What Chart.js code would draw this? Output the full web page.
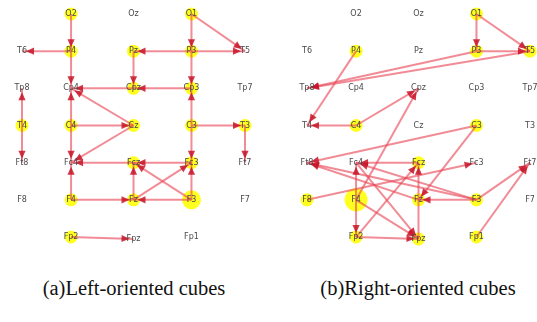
<!DOCTYPE html>
<html>
<head>
<meta charset="utf-8">
<script src="https://cdn.jsdelivr.net/npm/chart.js@4/dist/chart.umd.min.js"></script>
<style>
  html, body { margin: 0; padding: 0; background: #fff; }
  body { width: 537px; height: 322px; position: relative; overflow: hidden; }
  canvas { position: absolute; top: 0; filter: blur(0.45px); }
  #ca { left: 0; }
  #cb { left: 285px; }
  .cap { position: absolute; top: 276px; font-family: "Liberation Serif", serif; font-size: 20.5px; line-height: 24px; color: #111; white-space: nowrap; transform: translateX(-50%); }
</style>
</head>
<body>
<canvas id="ca" width="270" height="260"></canvas>
<canvas id="cb" width="252" height="260"></canvas>
<div class="cap" id="capA" style="left:134px">(a)Left-oriented cubes</div>
<div class="cap" id="capB" style="left:418px">(b)Right-oriented cubes</div>
<script>
// ---- data ----
const nodeNames = ['O2','Oz','O1','T6','P4','Pz','P3','T5','Tp8','Cp4','Cpz','Cp3','Tp7','T4','C4','Cz','C3','T3','Ft8','Fc4','Fcz','Fc3','Ft7','F8','F4','Fz','F3','F7','Fp2','Fpz','Fp1'];
const nodeCol   = [1,2,3, 0,1,2,3,4, 0,1,2,3,4, 0,1,2,3,4, 0,1,2,3,4, 0,1,2,3,4, 1,2,3];
const nodeRow   = [0,0,0, 1,1,1,1,1, 2,2,2,2,2, 3,3,3,3,3, 4,4,4,4,4, 5,5,5,5,5, 6,6.05,6];
const colX      = [0, 0.88, 2.0, 3.04, 4.0];

const edgesA = [
  ['O2','P4'],['P4','T6'],['P4','Cp4'],['O1','P3'],['O1','T5'],['P3','T5'],['P3','Pz'],
  ['Pz','Cpz'],['P3','Cp3'],['Cp3','Cpz'],['Cpz','Cp4'],['C3','Cp3'],['T4','Tp8'],
  ['C4','Cp4'],['Cz','Cp4'],['C4','Cz'],['Cz','Fc4'],['C4','Fc4'],['F4','Fc4'],['F4','Fz'],
  ['C3','T3'],['C3','Fc3'],['T3','Ft7'],['T4','Ft8'],['Fc3','Fcz'],['Fcz','Fc4'],
  ['Fz','Fcz'],['F3','Fz'],['F3','Fcz'],['Fz','Fc3'],['F3','Fc3'],['Fp2','Fpz']
];
const activeA = ['O2','O1','P4','Pz','P3','Cpz','Cp3','T4','C4','Cz','C3','T3','Fcz','Fc3','F4','Fz','F3','Fp2'];
const hubA = 'F3';

const edgesB = [
  ['O1','P3'],['O1','T5'],['P3','T5'],['P3','Tp8'],['T5','Tp8'],['P4','T4'],['C4','T4'],
  ['C4','Cpz'],['F4','Cpz'],['C3','Ft8'],['C3','Fz'],['Fcz','Fc4'],['F8','Fc3'],['Fp2','Fcz'],
  ['F3','Ft8'],['Fz','Ft8'],['F3','Fc4'],['Fc4','Fpz'],['F4','Fpz'],['Fp2','Fpz'],['F4','Fp2'],
  ['Fpz','Fcz'],['F3','Fz'],['F3','Ft7'],['Fp1','Ft7'],['F4','Fc4']
];
const activeB = ['O1','P3','T5','P4','C4','C3','Fcz','F8','F4','Fz','F3','Fp2','Fpz','Fp1'];
const hubB = 'F4';

// ---- helpers ----
function pos(name) {
  const i = nodeNames.indexOf(name);
  return { x: colX[nodeCol[i]], y: nodeRow[i] };
}
const PX_X = 55.75, PX_Y = 37.17, OFF_X = 22, OFF_Y = 14;

const arrowPlugin = {
  id: 'arrowsAndLabels',
  afterDatasetsDraw(chart) {
    const ctx = chart.ctx;
    const sx = chart.scales.x, sy = chart.scales.y;
    const edges = chart.options.plugins.arrowsAndLabels.edges;
    ctx.save();
    edges.forEach(([a, b]) => {
      const p = pos(a), q = pos(b);
      const x1 = sx.getPixelForValue(p.x), y1 = sy.getPixelForValue(p.y);
      const x2 = sx.getPixelForValue(q.x), y2 = sy.getPixelForValue(q.y);
      const ang = Math.atan2(y2 - y1, x2 - x1);
      const tipOff = 4;
      const tx = x2 - Math.cos(ang) * tipOff, ty = y2 - Math.sin(ang) * tipOff;
      const len = 8, half = 3.6;
      const bx = tx - Math.cos(ang) * len, by = ty - Math.sin(ang) * len;
      ctx.beginPath();
      ctx.moveTo(tx, ty);
      ctx.lineTo(bx + Math.sin(ang) * half, by - Math.cos(ang) * half);
      ctx.lineTo(bx - Math.sin(ang) * half, by + Math.cos(ang) * half);
      ctx.closePath();
      ctx.fillStyle = 'rgba(200,20,40,0.85)';
      ctx.fill();
    });
    ctx.font = '8px "DejaVu Sans", sans-serif';
    ctx.textAlign = 'center';
    ctx.textBaseline = 'middle';
    ctx.fillStyle = '#4a4a4a';
    nodeNames.forEach(n => {
      const p = pos(n);
      ctx.fillText(n, sx.getPixelForValue(p.x), sy.getPixelForValue(p.y));
    });
    ctx.restore();
  }
};

function makeChart(id, edges, active, hub) {
  const canvas = document.getElementById(id);
  const W = canvas.width, H = canvas.height;
  const xmin = -OFF_X / PX_X, ymin = -OFF_Y / PX_Y;
  const datasets = [];
  edges.forEach(([a, b]) => {
    datasets.push({
      type: 'line',
      data: [pos(a), pos(b)],
      borderColor: 'rgba(232,70,85,0.62)',
      borderWidth: 2,
      pointRadius: 0,
      fill: false,
      clip: false,
      order: 1
    });
  });
  datasets.push({
    type: 'scatter',
    data: nodeNames.map(n => pos(n)),
    pointRadius: nodeNames.map(n => active.includes(n) ? (n === hub ? (hub === 'F4' ? 11.5 : 9.5) : 6.5) : 0),
    pointBackgroundColor: 'rgba(255,255,20,0.95)',
    pointBorderWidth: 0,
    pointHoverRadius: 0,
    clip: false,
    order: 2
  });
  return new Chart(canvas, {
    type: 'scatter',
    data: { datasets },
    options: {
      responsive: false,
      animation: false,
      events: [],
      layout: { padding: 0, autoPadding: false },
      plugins: { legend: { display: false }, tooltip: { enabled: false }, arrowsAndLabels: { edges } },
      scales: {
        x: { type: 'linear', display: false, min: xmin, max: xmin + W / PX_X },
        y: { type: 'linear', display: false, reverse: true, min: ymin, max: ymin + H / PX_Y }
      }
    },
    plugins: [arrowPlugin]
  });
}

makeChart('ca', edgesA, activeA, hubA);
makeChart('cb', edgesB, activeB, hubB);
</script>
</body>
</html>
